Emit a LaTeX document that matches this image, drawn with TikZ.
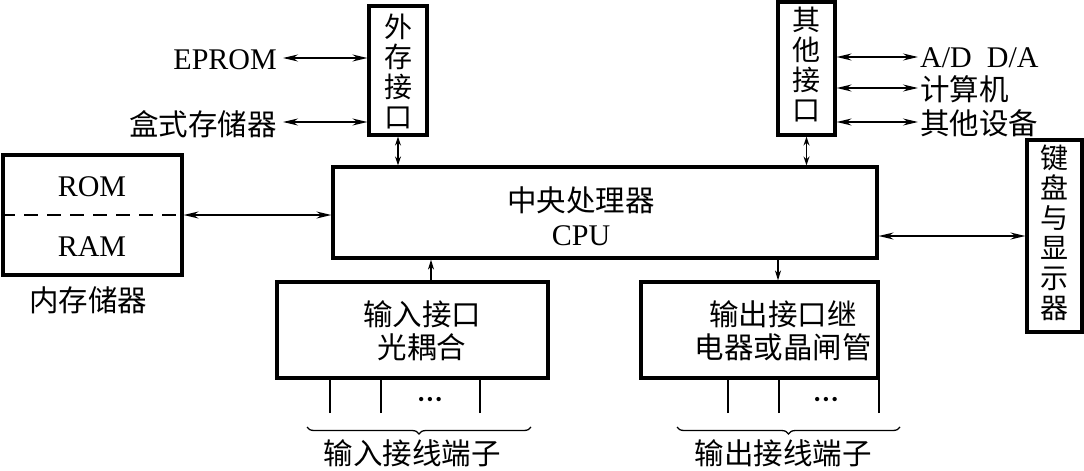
\documentclass[tikz,border=0pt]{standalone}
\usepackage{fontspec}
\setmainfont{Liberation Serif}
\newfontfamily\cjk{Noto Sans CJK SC}
\usetikzlibrary{arrows.meta,decorations.pathreplacing}
\begin{document}
\begin{tikzpicture}[x=1pt,y=-1pt,
  box/.style={draw,line width=3.2pt,inner sep=0pt},
  lbl/.style={inner sep=0pt,font=\fontsize{30}{33}\selectfont},
  zh/.style={inner sep=0pt,font=\fontsize{29.5}{33}\selectfont\cjk,align=center},
  vzh/.style={inner sep=0pt,font=\fontsize{28}{30}\selectfont\cjk,align=center},
  dbl/.style={line width=1.4pt,{Stealth[length=15pt,width=7pt,inset=5pt]}-{Stealth[length=15pt,width=7pt,inset=5pt]}},
  sdbl/.style={line width=1.4pt,{Stealth[length=9pt,width=6pt,inset=3pt]}-{Stealth[length=9pt,width=6pt,inset=3pt]}},
  one/.style={line width=1.4pt,-{Stealth[length=10pt,width=6pt,inset=3pt]}},
  term/.style={line width=1.3pt},
  dts/.style={inner sep=0pt,font=\fontsize{18}{18}\selectfont},
  brc/.style={line width=1.3pt,decorate,decoration={brace,mirror,amplitude=7pt}}
]
\useasboundingbox[fill=white] (0,0) rectangle (1084,471);

% boxes
\node[box,minimum width=58pt,minimum height=129pt] (ext) at (398,70.5) {};
\node[vzh] (extl) at (398,71) {外\\存\\接\\口};
\node[box,minimum width=57pt,minimum height=133pt] (oth) at (806.5,68.5) {};
\node[vzh] (othl) at (806.5,65) {其\\他\\接\\口};
\node[box,minimum width=544pt,minimum height=91pt] (cpu) at (605,212.5) {};
\node[zh] (cpul) at (581,216) {中央处理器\\[1pt]{\rmfamily\fontsize{30}{33}\selectfont CPU}};
\node[box,minimum width=179pt,minimum height=120pt] (mem) at (92.5,215) {};
\node[lbl] (rom) at (92,187) {ROM};
\node[lbl] (ram) at (92,247) {RAM};
\node[zh] (meml) at (88,300) {内存储器};
\node[box,minimum width=55pt,minimum height=192pt] (kbd) at (1054.5,236) {};
\node[vzh] (kbdl) at (1054.5,232.5) {键\\盘\\与\\显\\示\\器};
\node[box,minimum width=271pt,minimum height=96pt] (in) at (412.5,330) {};
\node[zh] (inl) at (422,331) {输入接口\\光耦合};
\node[box,minimum width=237pt,minimum height=96pt] (out) at (759.5,330) {};
\node[zh] (outl) at (783,331) {输出接口继\\电器或晶闸管};

% dashed line in memory
\draw[line width=1.6pt,dash pattern=on 14pt off 9pt] (mem.west) -- (mem.east);

% left labels
\node[lbl,anchor=east] (eprom) at (277,60) {EPROM};
\node[zh,anchor=east] (box2) at (277,124) {盒式存储器};
\draw[dbl] ([xshift=6pt]eprom.east |- 0,58) coordinate (e1) -- (e1 -| ext.west);
\draw[dbl] ([xshift=6pt]box2.east |- 0,122) coordinate (e2) -- (e2 -| ext.west);

% right labels
\node[lbl,anchor=west] (ad) at (920,58) {A/D\ \ D/A};
\node[zh,anchor=west] (comp) at (920,89) {计算机};
\node[zh,anchor=west] (dev) at (920,123) {其他设备};
\coordinate (r1) at (918,57);
\coordinate (r2) at (918,88);
\coordinate (r3) at (918,122);
\draw[dbl] (r1 -| oth.east) -- (r1);
\draw[dbl] (r2 -| oth.east) -- (r2);
\draw[dbl] (r3 -| oth.east) -- (r3);

% connections to CPU
\draw[sdbl] (ext.south) -- (ext.south |- cpu.north);
\draw[sdbl] (oth.south) -- (oth.south |- cpu.north);
\draw[dbl] (mem.east) -- (mem.east -| cpu.west);
\draw[dbl] (cpu.east |- kbd.west) -- (kbd.west);
\coordinate (ia) at (431,282);
\draw[one] (ia) -- (ia |- cpu.south);
\coordinate (oa) at (778,259);
\draw[one] (oa) -- (oa |- out.north);

% terminals
\foreach \x/\n in {330/a,381/b,480/c,728/d,779/e,879/f}{
  \coordinate (t\n) at (\x,413);
}
\draw[term] (ta) -- (ta |- in.south);
\draw[term] (tb) -- (tb |- in.south);
\draw[term] (tc) -- (tc |- in.south);
\draw[term] (td) -- (td |- out.south);
\draw[term] (te) -- (te |- out.south);
\draw[term] (tf) -- (tf |- out.south);
\node[dts] (dots1) at (430,401) {\textbullet\hspace{2.5pt}\textbullet\hspace{2.5pt}\textbullet};
\node[dts] (dots2) at (826,401) {\textbullet\hspace{2.5pt}\textbullet\hspace{2.5pt}\textbullet};

% braces
\coordinate (b1) at (307,427);
\coordinate (b2) at (531,427);
\coordinate (b3) at (677,427);
\coordinate (b4) at (900,427);
\draw[brc] (b1) -- (b2);
\draw[brc] (b3) -- (b4);
\node[zh] (inlbl) at (412,453) {输入接线端子};
\node[zh] (outlbl) at (783,453) {输出接线端子};
\end{tikzpicture}
\end{document}
